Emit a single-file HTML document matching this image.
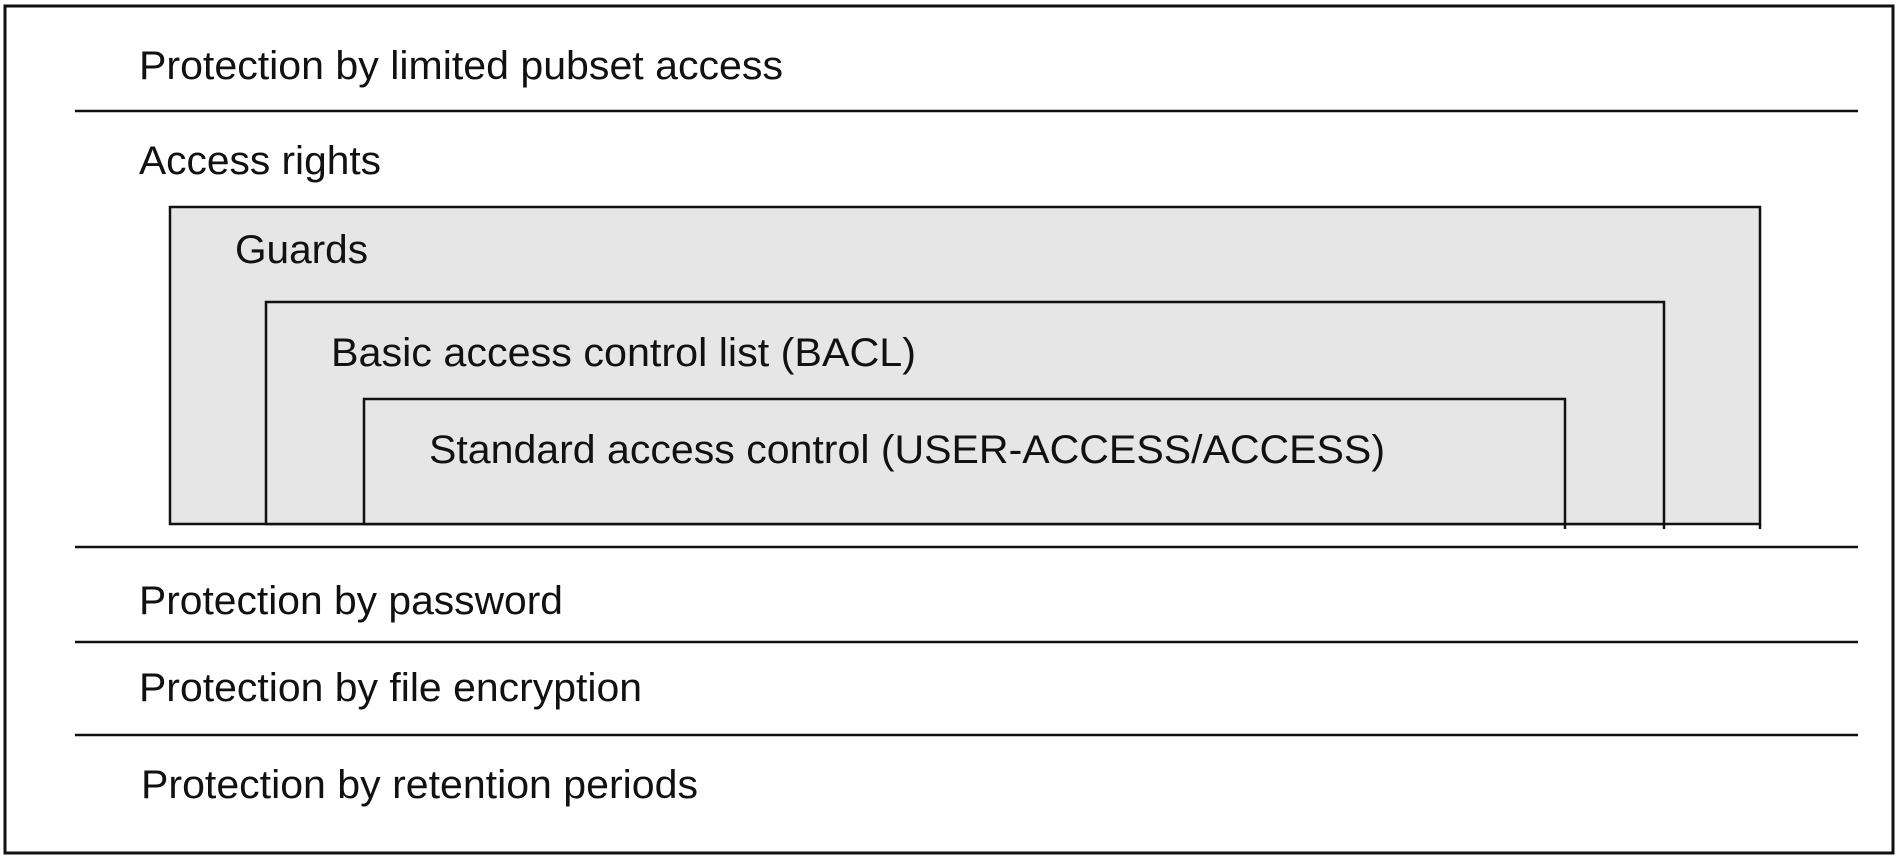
<!DOCTYPE html>
<html><head><meta charset="utf-8"><style>
html,body{margin:0;padding:0;background:#fff;}
svg{display:block}
text{font-family:"Liberation Sans",Arial,sans-serif;font-size:40px;fill:#111;}
</style></head><body>
<svg width="1902" height="859" viewBox="0 0 1902 859" xmlns="http://www.w3.org/2000/svg">
<rect x="5" y="6" width="1888" height="847" fill="#fff" stroke="#111" stroke-width="3"/>
<line x1="75" y1="111" x2="1858" y2="111" stroke="#111" stroke-width="2.5"/>
<line x1="75" y1="547" x2="1858" y2="547" stroke="#111" stroke-width="2.5"/>
<line x1="75" y1="642" x2="1858" y2="642" stroke="#111" stroke-width="2.5"/>
<line x1="75" y1="735" x2="1858" y2="735" stroke="#111" stroke-width="2.5"/>
<rect x="170" y="207" width="1590" height="317" fill="#e6e6e6" stroke="#111" stroke-width="2.5"/>
<rect x="266" y="302" width="1398" height="222" fill="#e6e6e6" stroke="#111" stroke-width="2.5"/>
<rect x="364" y="399" width="1201" height="125" fill="#e6e6e6" stroke="#111" stroke-width="2.5"/>
<line x1="1565" y1="524" x2="1565" y2="529" stroke="#111" stroke-width="2.5"/>
<line x1="1664" y1="524" x2="1664" y2="529" stroke="#111" stroke-width="2.5"/>
<line x1="1760" y1="524" x2="1760" y2="529" stroke="#111" stroke-width="2.5"/>
<text x="139" y="79" textLength="644" lengthAdjust="spacingAndGlyphs">Protection by limited pubset access</text>
<text x="139" y="174" textLength="242" lengthAdjust="spacingAndGlyphs">Access rights</text>
<text x="235" y="263" textLength="133" lengthAdjust="spacingAndGlyphs">Guards</text>
<text x="331" y="366" textLength="585" lengthAdjust="spacingAndGlyphs">Basic access control list (BACL)</text>
<text x="429" y="463" textLength="956" lengthAdjust="spacingAndGlyphs">Standard access control (USER-ACCESS/ACCESS)</text>
<text x="139" y="614" textLength="424" lengthAdjust="spacingAndGlyphs">Protection by password</text>
<text x="139" y="701" textLength="503" lengthAdjust="spacingAndGlyphs">Protection by file encryption</text>
<text x="141" y="798" textLength="557" lengthAdjust="spacingAndGlyphs">Protection by retention periods</text>
</svg>
</body></html>
